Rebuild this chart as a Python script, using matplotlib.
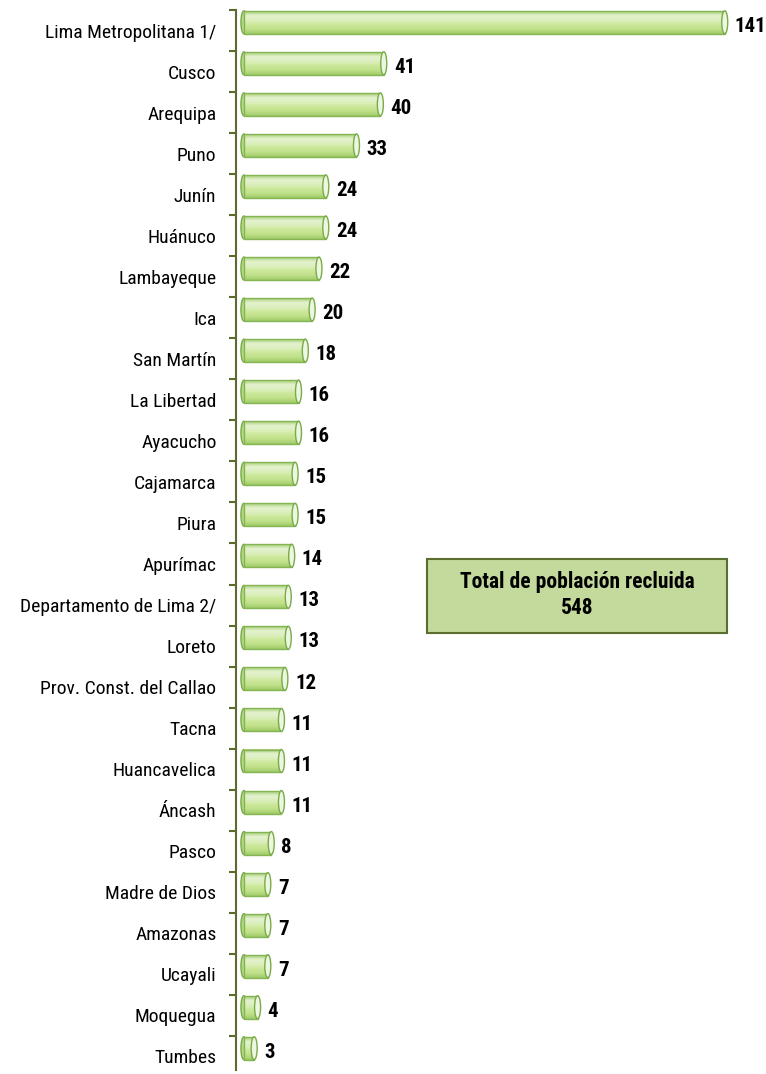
import matplotlib.pyplot as plt
from matplotlib.patches import Ellipse, Rectangle
from matplotlib.colors import LinearSegmentedColormap
from matplotlib import font_manager
import numpy as np

# Población recluida por departamento
regiones = ["Lima Metropolitana 1/", "Cusco", "Arequipa", "Puno", "Junín", "Huánuco",
            "Lambayeque", "Ica", "San Martín", "La Libertad", "Ayacucho", "Cajamarca",
            "Piura", "Apurímac", "Departamento de Lima 2/", "Loreto",
            "Prov. Const. del Callao", "Tacna", "Huancavelica", "Áncash", "Pasco",
            "Madre de Dios", "Amazonas", "Ucayali", "Moquegua", "Tumbes"]
reclusos = [141, 41, 40, 33, 24, 24, 22, 20, 18, 16, 16, 15, 15, 14, 13, 13,
            12, 11, 11, 11, 8, 7, 7, 7, 4, 3]
total = 548

# primera familia estrecha disponible
disponibles = set(f.name for f in font_manager.fontManager.ttflist)
candidatas = ['Liberation Sans Narrow', 'Arial Narrow', 'Roboto Condensed',
              'Archivo Narrow', 'PT Sans Narrow', 'Open Sans Condensed']
estrecha = [c for c in candidatas if c in disponibles][:1]
plt.rcParams['font.family'] = estrecha + ['DejaVu Sans']

fig = plt.figure(figsize=(7.66, 10.74), dpi=100)
ax = fig.add_axes([0.308, 0.0037, 0.692, 0.987])

pos = np.arange(len(regiones))
y_barra = pos - 0.2
alto = 0.56
tapa = 1.76  # ancho de la elipse del cilindro

# degradado vertical de las barras (de arriba hacia abajo)
verde = LinearSegmentedColormap.from_list(
    'cilindro', ['#a6cf74', '#e4f2cf', '#dcefbf', '#cbe899', '#bfe08a', '#9fca68'])
grad = np.linspace(0, 1, 64).reshape(-1, 1)

for y, v in zip(y_barra, reclusos):
    ax.add_patch(Ellipse((0, y), tapa, alto, facecolor='#b2d884',
                         edgecolor='#79ab48', linewidth=1, zorder=1))
    ax.imshow(grad, cmap=verde, extent=[0, v, y + alto / 2, y - alto / 2],
              aspect='auto', interpolation='bilinear', zorder=2)
    ax.add_patch(Ellipse((v, y), tapa, alto, facecolor='#ecf6e0',
                         edgecolor='#79ab48', linewidth=1, zorder=4))
    ax.text(v + tapa / 2 + 2.1, y + 0.1, str(v), va='center', ha='left',
            fontsize=15, fontweight='bold', color='black')

ax.barh(y_barra, reclusos, height=alto, color='none', edgecolor='#84b552',
        linewidth=1, zorder=3)

ax.set_xlim(-2.35, 153.1)
ax.set_ylim(25.33, -0.5)

ax.set_yticks(pos)
ax.set_yticklabels(regiones, fontsize=14)
ax.set_yticks(pos - 0.5, minor=True)
ax.tick_params(axis='y', which='major', length=0, pad=14)
ax.tick_params(axis='y', which='minor', length=5, width=1.5, color='#5b6b2e',
               direction='out')
ax.set_xticks([])
for lado in ['top', 'right', 'bottom']:
    ax.spines[lado].set_visible(False)
ax.spines['left'].set_color('#5b6b2e')
ax.spines['left'].set_linewidth(1.5)

# recuadro con el total
fig.patches.append(Rectangle((427 / 766, 1 - 633 / 1074), 300 / 766, 74 / 1074,
                             transform=fig.transFigure, facecolor='#c4d99c',
                             edgecolor='#5a6e2e', linewidth=1.5))
fig.text(577 / 766, 1 - 595 / 1074, "Total de población recluida\n%d" % total,
         ha='center', va='center', fontsize=15.5, fontweight='bold',
         linespacing=1.2)

fig.savefig('out.png', dpi=100)
